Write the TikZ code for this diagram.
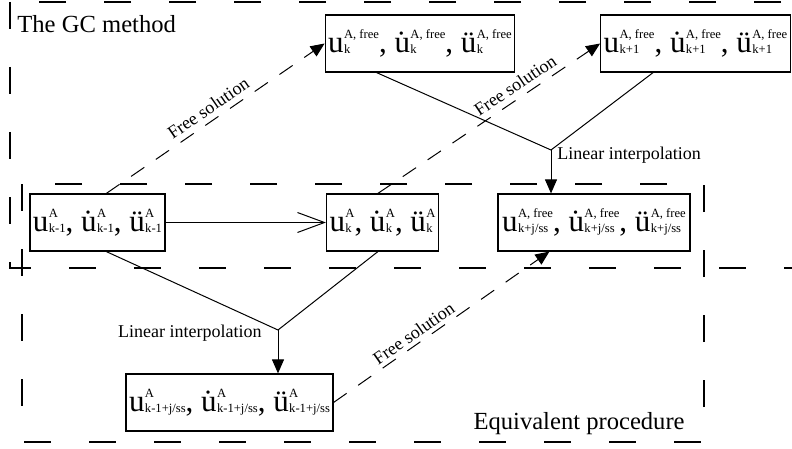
\documentclass[tikz,border=0pt]{standalone}
\usepackage{fontspec}
\setmainfont{Liberation Serif}
\usetikzlibrary{arrows.meta,positioning,calc}

% big letter with a stacked superscript / subscript pair
\newcommand{\qv}[3]{#1\kern.2pt%
  \setbox0\hbox{\fontsize{6.3}{7}\selectfont #2}%
  \setbox1\hbox{\fontsize{6.3}{7}\selectfont #3}%
  \ifdim\wd0>\wd1 \dimen0=\wd0 \else \dimen0=\wd1 \fi
  \rlap{\raise7pt\box0}\rlap{\lower.5pt\box1}\kern\dimen0\relax}

\begin{document}
\begin{tikzpicture}[x=0.5pt,y=-0.5pt,
    qbox/.style={draw,line width=0.6pt,minimum height=28.5pt,inner xsep=1.5pt,inner ysep=0pt,
      font=\fontsize{15.5}{16}\selectfont},
    frame/.style={line width=0.6pt,dash pattern=on 13.5pt off 19pt},
    link/.style={line width=0.5pt},
    tip/.style={-{Triangle[length=7pt,width=6pt]}},
    freesol/.style={link,tip,dash pattern=on 8pt off 7pt},
    lbl/.style={font=\fontsize{9}{10}\selectfont,inner sep=1pt},
    title/.style={font=\fontsize{12.3}{14}\selectfont,inner sep=0pt}]
  \useasboundingbox (0,0) rectangle (792,449);

  % the two dashed frames
  \draw[frame] (10,2) rectangle (812,268);
  \draw[frame] (22,184) rectangle (704,442);
  \node[title,anchor=base west] (gc) at (17,33) {The GC method};
  \node[title,anchor=base east] (eq) at (685,429) {Equivalent procedure};

  % states
  \node[qbox,minimum width=64.5pt] (km1) at (97.5,222.5)
    {\qv{u}{A}{k-1}, \qv{\.u}{A}{k-1}, \qv{\"u}{A}{k-1}};
  \node[qbox,minimum width=52.5pt] (k) at (382.5,222.5)
    {\qv{u}{A}{k}, \qv{\.u}{A}{k}, \qv{\"u}{A}{k}};
  \node[qbox,minimum width=90pt] (kfree) at (420,43.5)
    {\qv{u}{A, free}{k}, \qv{\.u}{A, free}{k}, \qv{\"u}{A, free}{k}};
  \node[qbox,minimum width=93.5pt] (kpfree) at (695.5,43.5)
    {\qv{u}{A, free}{k+1}, \qv{\.u}{A, free}{k+1}, \qv{\"u}{A, free}{k+1}};
  \node[qbox,minimum width=96pt] (kjss) at (594,222.5)
    {\qv{u}{A, free}{k+j/ss}, \qv{\.u}{A, free}{k+j/ss}, \qv{\"u}{A, free}{k+j/ss}};
  \node[qbox,minimum width=101.5pt] (km1jss) at (229.5,402.5)
    {\qv{u}{A}{k-1+j/ss}, \qv{\.u}{A}{k-1+j/ss}, \qv{\"u}{A}{k-1+j/ss}};

  % step k-1 -> k
  \draw[link,-{Straight Barb[length=13.5pt,width=10pt]}] (km1) -- (k);

  % interpolation of the free solutions
  \coordinate (jtop) at (551,150);
  \draw[link] ([xshift=26pt]kfree.south west) -- (jtop) -- ([xshift=26.5pt]kpfree.south west);
  \draw[link,tip] (jtop) -- (jtop |- kjss.north);
  \node[lbl,anchor=west] (litop) at ([xshift=2pt,yshift=-2.5pt]jtop) {Linear interpolation};

  % interpolation of the converged states
  \coordinate (jbot) at (278,330);
  \draw[link] ([xshift=38.5pt]km1.south west) -- (jbot) -- ([xshift=26pt]k.south west);
  \draw[link,tip] (jbot) -- (jbot |- km1jss.north);
  \node[lbl,anchor=east] (libot) at ([xshift=-7pt,yshift=-1.5pt]jbot) {Linear interpolation};

  % free solutions
  \draw[freesol] ([xshift=38.5pt]km1.north west) -- (kfree.west)
    node[lbl,sloped,above=2pt,midway] (fs1) {Free solution};
  \draw[freesol] ([xshift=26pt]k.north west) -- (kpfree.west)
    node[lbl,sloped,above=2pt,pos=0.65] (fs2) {Free solution};
  \draw[freesol] (km1jss.east) -- ([xshift=26pt]kjss.south west)
    node[lbl,sloped,above=1pt,pos=0.4] (fs3) {Free solution};
\end{tikzpicture}
\end{document}
